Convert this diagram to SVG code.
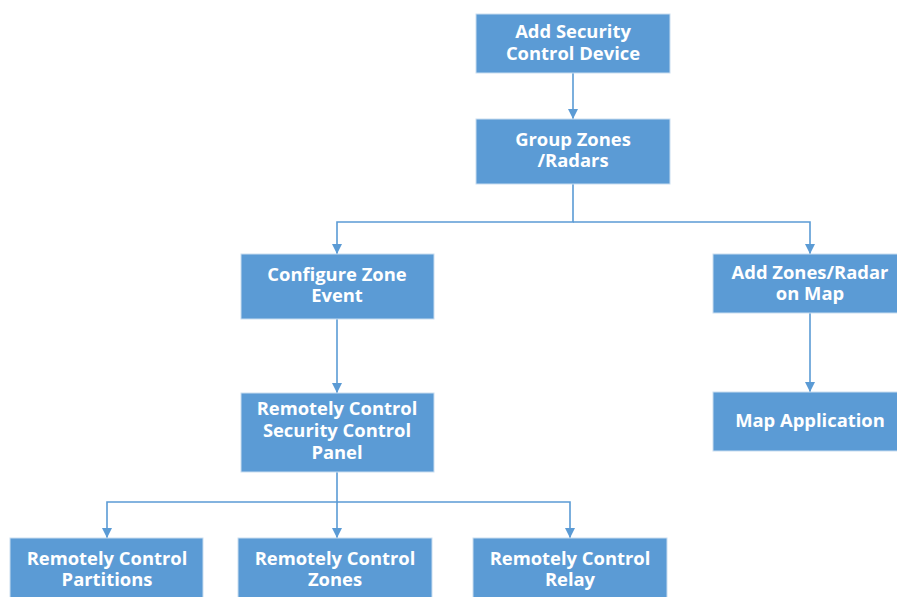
<svg xmlns="http://www.w3.org/2000/svg" width="897" height="597" viewBox="0 0 897 597">
<style>
.box{fill:#5b9bd5;stroke:#c9ddf0;stroke-width:1}
.t{font-family:"Open Sans","Liberation Sans",sans-serif;font-weight:700;font-size:18.4px;fill:#fff;text-anchor:middle}
.c{fill:none;stroke:#5b9bd5;stroke-width:1.6}
</style>
<defs>
<marker id="ah" markerWidth="10" markerHeight="10" viewBox="0 0 10 10" refX="10" refY="5" orient="auto" markerUnits="userSpaceOnUse">
<path d="M0,0 L10,5 L0,10 Z" fill="#5b9bd5"/>
</marker>
</defs>
<rect width="897" height="597" fill="#fff"/>
<g id="connectors">
<path class="c" d="M573,73 V119" marker-end="url(#ah)"/>
<path class="c" d="M573,184 V222 H337 V254" marker-end="url(#ah)"/>
<path class="c" d="M573,222 H810 V254" marker-end="url(#ah)"/>
<path class="c" d="M337,319 V393" marker-end="url(#ah)"/>
<path class="c" d="M810,313 V392" marker-end="url(#ah)"/>
<path class="c" d="M337,472 V502 H107 V538" marker-end="url(#ah)"/>
<path class="c" d="M337,502 V538" marker-end="url(#ah)"/>
<path class="c" d="M337,502 H570 V538" marker-end="url(#ah)"/>
</g>
<g id="n1"><rect class="box" x="476" y="14" width="194" height="59"/><text class="t" x="573" y="38">Add Security</text><text class="t" x="573" y="60">Control Device</text></g>
<g id="n2"><rect class="box" x="476" y="119" width="194" height="65"/><text class="t" x="573" y="146">Group Zones</text><text class="t" x="573" y="167">/Radars</text></g>
<g id="n3"><rect class="box" x="241" y="254" width="193" height="65"/><text class="t" x="337" y="281">Configure Zone</text><text class="t" x="337" y="302">Event</text></g>
<g id="n4"><rect class="box" x="713" y="254" width="194" height="59"/><text class="t" x="810" y="279">Add Zones/Radar</text><text class="t" x="810" y="300">on Map</text></g>
<g id="n5"><rect class="box" x="713" y="392" width="194" height="59"/><text class="t" x="810" y="427">Map Application</text></g>
<g id="n6"><rect class="box" x="241" y="393" width="193" height="79"/><text class="t" x="337" y="415">Remotely Control</text><text class="t" x="337" y="437">Security Control</text><text class="t" x="337" y="459">Panel</text></g>
<g id="n7"><rect class="box" x="10" y="538" width="193" height="70"/><text class="t" x="107" y="565">Remotely Control</text><text class="t" x="107" y="586">Partitions</text></g>
<g id="n8"><rect class="box" x="238" y="538" width="194" height="70"/><text class="t" x="335" y="565">Remotely Control</text><text class="t" x="335" y="586">Zones</text></g>
<g id="n9"><rect class="box" x="473" y="538" width="194" height="70"/><text class="t" x="570" y="565">Remotely Control</text><text class="t" x="570" y="586">Relay</text></g>
</svg>
